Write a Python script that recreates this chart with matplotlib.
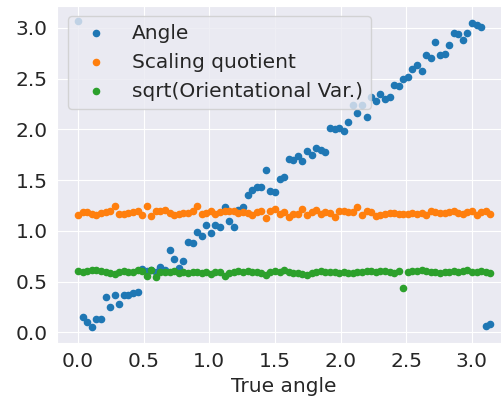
import matplotlib
matplotlib.use("Agg")
import matplotlib.pyplot as plt
import seaborn as sns

# true angle grid (radians)
true_angle = [
    0.000, 0.035, 0.070, 0.105, 0.140, 0.175, 0.209, 0.244, 0.279, 0.314,
    0.349, 0.384, 0.419, 0.454, 0.489, 0.524, 0.559, 0.593, 0.628, 0.663,
    0.698, 0.733, 0.768, 0.803, 0.838, 0.873, 0.908, 0.942, 0.977, 1.012,
    1.047, 1.082, 1.117, 1.152, 1.187, 1.222, 1.257, 1.292, 1.326, 1.361,
    1.396, 1.431, 1.466, 1.501, 1.536, 1.571, 1.606, 1.641, 1.676, 1.710,
    1.745, 1.780, 1.815, 1.850, 1.885, 1.920, 1.955, 1.990, 2.025, 2.059,
    2.094, 2.129, 2.164, 2.199, 2.234, 2.269, 2.304, 2.339, 2.374, 2.409,
    2.443, 2.478, 2.513, 2.548, 2.583, 2.618, 2.653, 2.688, 2.723, 2.758,
    2.793, 2.827, 2.862, 2.897, 2.932, 2.967, 3.002, 3.037, 3.072, 3.107,
    3.142,
]

# estimated angle
angle = [
    3.07, 0.15, 0.10, 0.05, 0.13, 0.13, 0.35, 0.25, 0.37, 0.28,
    0.37, 0.37, 0.39, 0.40, 0.62, 0.60, 0.61, 0.59, 0.64, 0.61,
    0.81, 0.72, 0.63, 0.70, 0.89, 0.88, 0.99, 0.95, 1.06, 0.98,
    1.06, 1.04, 1.23, 1.10, 1.04, 1.21, 1.23, 1.35, 1.40, 1.43,
    1.43, 1.60, 1.39, 1.38, 1.51, 1.53, 1.71, 1.70, 1.74, 1.69,
    1.79, 1.75, 1.82, 1.80, 1.78, 2.01, 2.00, 2.01, 1.98, 2.07,
    2.24, 2.16, 2.24, 2.12, 2.32, 2.28, 2.35, 2.30, 2.32, 2.44,
    2.43, 2.50, 2.52, 2.60, 2.63, 2.58, 2.73, 2.70, 2.86, 2.73,
    2.74, 2.83, 2.95, 2.94, 2.88, 2.95, 3.05, 3.03, 3.01, 0.06,
    0.085,
]

scaling_quotient = [
    1.16, 1.19, 1.19, 1.17, 1.16, 1.18, 1.19, 1.20, 1.24, 1.17,
    1.17, 1.18, 1.19, 1.20, 1.16, 1.24, 1.15, 1.20, 1.20, 1.21,
    1.18, 1.16, 1.17, 1.18, 1.18, 1.20, 1.24, 1.17, 1.18, 1.20,
    1.17, 1.19, 1.20, 1.20, 1.20, 1.18, 1.19, 1.18, 1.16, 1.19,
    1.20, 1.13, 1.20, 1.22, 1.17, 1.19, 1.14, 1.17, 1.17, 1.22,
    1.16, 1.19, 1.21, 1.17, 1.19, 1.18, 1.14, 1.20, 1.20, 1.19,
    1.19, 1.23, 1.16, 1.20, 1.19, 1.15, 1.16, 1.17, 1.18, 1.18,
    1.17, 1.17, 1.17, 1.18, 1.17, 1.18, 1.16, 1.20, 1.19, 1.18,
    1.18, 1.19, 1.20, 1.18, 1.17, 1.19, 1.20, 1.16, 1.19, 1.20,
    1.17,
]

sqrt_orient_var = [
    0.60, 0.59, 0.60, 0.61, 0.61, 0.60, 0.59, 0.58, 0.57, 0.59,
    0.60, 0.59, 0.59, 0.61, 0.60, 0.55, 0.61, 0.54, 0.59, 0.59,
    0.59, 0.60, 0.58, 0.59, 0.58, 0.59, 0.59, 0.58, 0.59, 0.57,
    0.59, 0.59, 0.55, 0.58, 0.59, 0.60, 0.59, 0.60, 0.59, 0.59,
    0.58, 0.56, 0.59, 0.60, 0.59, 0.61, 0.59, 0.58, 0.58, 0.57,
    0.56, 0.58, 0.59, 0.60, 0.59, 0.59, 0.59, 0.58, 0.59, 0.58,
    0.58, 0.59, 0.59, 0.60, 0.60, 0.59, 0.60, 0.60, 0.59, 0.58,
    0.60, 0.44, 0.59, 0.60, 0.60, 0.61, 0.60, 0.59, 0.59, 0.58,
    0.59, 0.59, 0.60, 0.59, 0.60, 0.61, 0.59, 0.59, 0.60, 0.59,
    0.58,
]

sns.set_style("darkgrid")
plt.rcParams["font.family"] = ["DejaVu Sans"]
fs = 14.5

fig = plt.figure(figsize=(5.02, 4.08), dpi=100)
# axes run a bit past the right edge of the figure
ax = fig.add_axes([0.1145, 0.1605, 0.9034, 0.826])

ax.scatter(true_angle, angle, s=20, color="tab:blue", label="Angle")
ax.scatter(true_angle, scaling_quotient, s=20, color="tab:orange", label="Scaling quotient")
ax.scatter(true_angle, sqrt_orient_var, s=20, color="tab:green", label="sqrt(Orientational Var.)")

ax.set_xticks([0.0, 0.5, 1.0, 1.5, 2.0, 2.5, 3.0])
ax.set_yticks([0.0, 0.5, 1.0, 1.5, 2.0, 2.5, 3.0])
ax.tick_params(labelsize=fs)
ax.set_xlabel("True angle", fontsize=fs)
ax.legend(loc="upper left", fontsize=fs, scatterpoints=1)

fig.savefig("out.png", dpi=100)
